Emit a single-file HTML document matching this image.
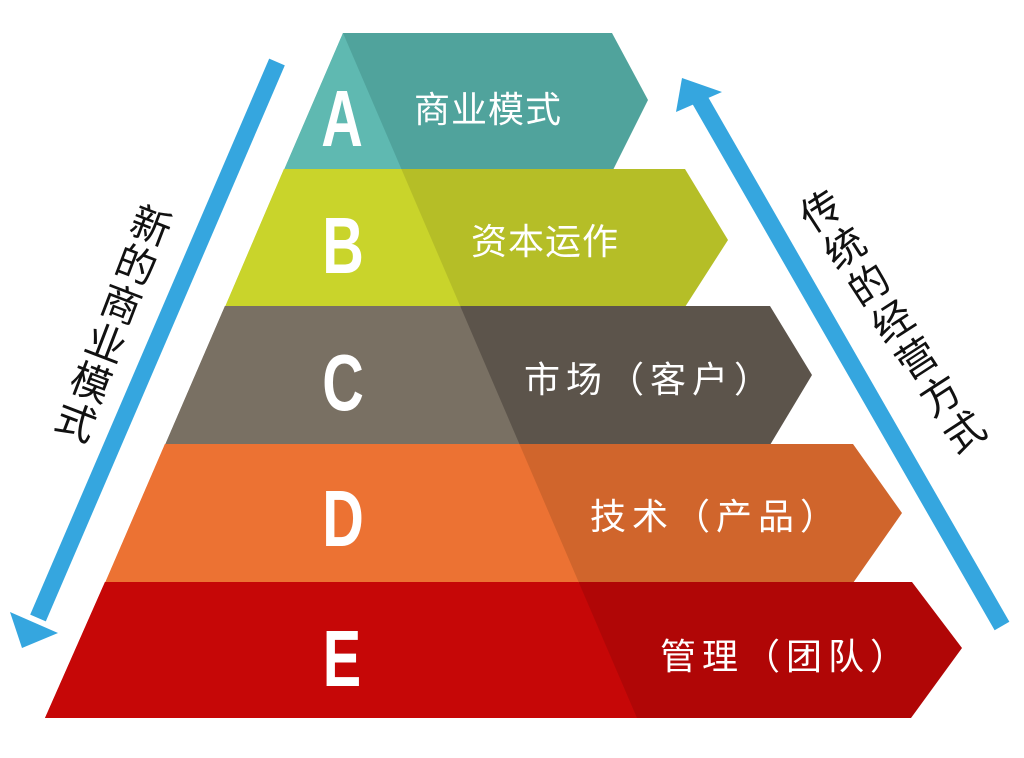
<!DOCTYPE html>
<html><head><meta charset="utf-8"><style>
html,body{margin:0;padding:0;background:#fff;}
svg{display:block;}
.l{font-family:"Liberation Sans","Noto Sans CJK SC",sans-serif;fill:#fff;}
.t{font-family:"Liberation Sans","Noto Sans CJK SC",sans-serif;fill:#111;font-size:40px;}
</style></head><body>
<svg width="1024" height="758" viewBox="0 0 1024 758" xmlns="http://www.w3.org/2000/svg">
<defs>
<clipPath id="cl"><polygon points="0,0 343,0 343,33 637,718 0,758"/></clipPath>
</defs>
<polygon points="343,33 612,33 648,100 613,170 284,170" fill="#50a39c"/>
<polygon points="284,169 685,169 728,240 685,307 225,307" fill="#b5be27"/>
<polygon points="225,306 770,306 812,375 770,445 165,445" fill="#5c544b"/>
<polygon points="165,444 853,444 902,513 853,583 105,583" fill="#d0652c"/>
<polygon points="105,582 912,582 962,648 911,718 45,718" fill="#b00606"/>
<g clip-path="url(#cl)">
<polygon points="343,33 612,33 648,100 613,170 284,170" fill="#5fb9b1"/>
<polygon points="284,169 685,169 728,240 685,307 225,307" fill="#c9d42b"/>
<polygon points="225,306 770,306 812,375 770,445 165,445" fill="#797063"/>
<polygon points="165,444 853,444 902,513 853,583 105,583" fill="#ec7233"/>
<polygon points="105,582 912,582 962,648 911,718 45,718" fill="#c60707"/>
</g>
<g class="l" font-size="80" text-anchor="middle" font-weight="bold">
<text x="342" y="146" transform="translate(342,0) scale(0.72,1) translate(-342,0)">A</text>
<text x="343" y="273" transform="translate(343,0) scale(0.72,1) translate(-343,0)">B</text>
<text x="343" y="410" transform="translate(343,0) scale(0.72,1) translate(-343,0)">C</text>
<text x="343" y="546" transform="translate(343,0) scale(0.72,1) translate(-343,0)">D</text>
<text x="342" y="686" transform="translate(342,0) scale(0.72,1) translate(-342,0)">E</text>
</g>
<g class="l" font-size="36">
<text x="414" y="122" letter-spacing="1">商业模式</text>
<text x="471" y="254" letter-spacing="1">资本运作</text>
<text x="524" y="392" letter-spacing="6">市场（客户）</text>
<text x="590" y="529" letter-spacing="6">技术（产品）</text>
<text x="660" y="669" letter-spacing="6">管理（团队）</text>
</g>
<line x1="277" y1="62" x2="38" y2="618" stroke="#35a6df" stroke-width="17"/>
<polygon points="10,612 58,633 22,648" fill="#35a6df"/>
<line x1="1002" y1="626" x2="700" y2="100" stroke="#35a6df" stroke-width="17"/>
<polygon points="676,112 722,92 682,78" fill="#35a6df"/>
<g class="t" text-anchor="middle">
<g transform="translate(113,325) rotate(21)">
<text x="0" y="-92">新</text><text x="0" y="-50">的</text><text x="0" y="-8">商</text><text x="0" y="34">业</text><text x="0" y="76">模</text><text x="0" y="118">式</text>
</g>
<g transform="translate(882,305) rotate(-33)">
<text x="0" y="-98">传</text><text x="0" y="-54">统</text><text x="0" y="-10">的</text><text x="0" y="34">经</text><text x="0" y="78">营</text><text x="0" y="122">方</text><text x="0" y="166">式</text>
</g>
</g>
</svg>
</body></html>
